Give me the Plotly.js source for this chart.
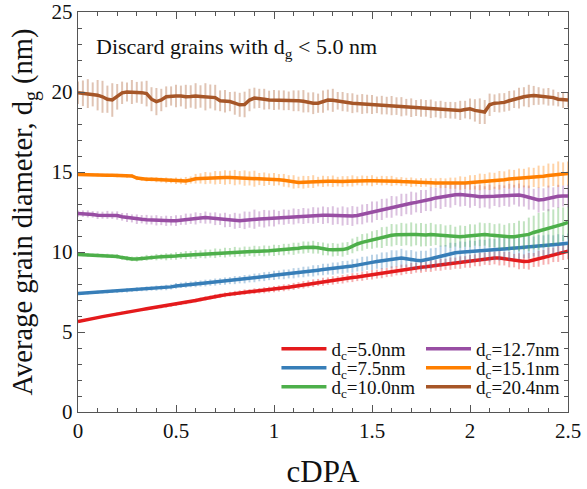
<!DOCTYPE html>
<html><head><meta charset="utf-8">
<script src="https://cdn.plot.ly/plotly-3.0.1.min.js"></script>
<style>html,body{margin:0;padding:0;background:#fff}#chart{width:587px;height:489px}</style>
</head><body><div id="chart"></div>
<script>
const cdpa = [0,
0.025,0.05,0.075,0.1, 0.125,0.15,0.175,0.2, 0.225,0.25,0.275,0.3, 0.325,0.35,0.375,0.4, 0.425,0.45,0.475,0.5,
0.525,0.55,0.575,0.6, 0.625,0.65,0.675,0.7, 0.725,0.75,0.775,0.8, 0.825,0.85,0.875,0.9, 0.925,0.95,0.975,1.0,
1.025,1.05,1.075,1.1, 1.125,1.15,1.175,1.2, 1.225,1.25,1.275,1.3, 1.325,1.35,1.375,1.4, 1.425,1.45,1.475,1.5,
1.525,1.55,1.575,1.6, 1.625,1.65,1.675,1.7, 1.725,1.75,1.775,1.8, 1.825,1.85,1.875,1.9, 1.925,1.95,1.975,2.0,
2.025,2.05,2.075,2.1, 2.125,2.15,2.175,2.2, 2.225,2.25,2.275,2.3, 2.325,2.35,2.375,2.4, 2.425,2.45,2.475,2.5];

const labels = ['d<sub>c</sub>=5.0nm','d<sub>c</sub>=7.5nm','d<sub>c</sub>=10.0nm','d<sub>c</sub>=12.7nm','d<sub>c</sub>=15.1nm','d<sub>c</sub>=20.4nm'];

const d50 = [5.65,
5.70,5.77,5.83,5.90, 5.96,6.02,6.08,6.15, 6.20,6.25,6.30,6.35, 6.40,6.45,6.50,6.53, 6.57,6.62,6.67,6.72,
6.78,6.84,6.90,6.97, 7.03,7.10,7.16,7.22, 7.27,7.32,7.37,7.41, 7.45,7.49,7.52,7.55, 7.58,7.61,7.65,7.68,
7.72,7.76,7.80,7.85, 7.90,7.95,8.00,8.05, 8.10,8.14,8.18,8.22, 8.25,8.30,8.35,8.40, 8.44,8.49,8.53,8.58,
8.62,8.67,8.72,8.78, 8.83,8.88,8.92,8.97, 9.02,9.05,9.08,9.12, 9.16,9.20,9.23,9.27, 9.30,9.34,9.38,9.42,
9.48,9.53,9.58,9.62, 9.63,9.62,9.58,9.52, 9.46,9.42,9.40,9.42, 9.50,9.58,9.66,9.75, 9.82,9.90,9.98,10.05];
const e50 = [0.05,
0.05,0.06,0.05,0.06, 0.06,0.07,0.06,0.07, 0.07,0.08,0.07,0.08, 0.08,0.09,0.08,0.09, 0.09,0.10,0.09,0.10,
0.10,0.11,0.10,0.12, 0.12,0.13,0.12,0.14, 0.13,0.15,0.14,0.16, 0.15,0.17,0.16,0.18, 0.17,0.19,0.18,0.20,
0.19,0.21,0.20,0.22, 0.21,0.23,0.22,0.24, 0.22,0.25,0.23,0.26, 0.24,0.27,0.25,0.28, 0.26,0.29,0.27,0.30,
0.28,0.31,0.29,0.32, 0.29,0.33,0.30,0.34, 0.31,0.35,0.32,0.36, 0.33,0.37,0.34,0.38, 0.35,0.39,0.36,0.40,
0.37,0.42,0.38,0.44, 0.40,0.46,0.42,0.48, 0.42,0.50,0.45,0.52, 0.44,0.50,0.46,0.52, 0.45,0.52,0.48,0.50];

const d75 = [7.40,
7.42,7.44,7.46,7.48, 7.50,7.52,7.54,7.56, 7.58,7.60,7.63,7.66, 7.68,7.70,7.72,7.74, 7.76,7.78,7.82,7.88,
7.92,7.95,7.98,8.00, 8.03,8.06,8.09,8.12, 8.15,8.18,8.21,8.24, 8.27,8.30,8.34,8.38, 8.42,8.46,8.50,8.54,
8.57,8.60,8.63,8.67, 8.71,8.75,8.78,8.82, 8.86,8.90,8.93,8.96, 9.00,9.04,9.08,9.12, 9.18,9.25,9.30,9.35,
9.40,9.45,9.50,9.56, 9.60,9.62,9.58,9.52, 9.48,9.46,9.50,9.58, 9.66,9.74,9.82,9.90, 9.95,9.98,10.00,10.02,
10.05,10.08,10.10,10.12, 10.15,10.18,10.20,10.22, 10.25,10.27,10.30,10.32, 10.35,10.38,10.40,10.43, 10.46,10.49,10.52,10.55];
const e75 = [0.08,
0.08,0.09,0.08,0.10, 0.09,0.11,0.10,0.12, 0.11,0.13,0.12,0.14, 0.13,0.15,0.14,0.16, 0.15,0.17,0.16,0.18,
0.17,0.19,0.18,0.20, 0.19,0.21,0.20,0.22, 0.21,0.23,0.22,0.25, 0.23,0.26,0.24,0.27, 0.25,0.28,0.26,0.29,
0.27,0.30,0.28,0.32, 0.30,0.33,0.31,0.35, 0.32,0.36,0.34,0.38, 0.35,0.40,0.37,0.42, 0.40,0.45,0.42,0.48,
0.45,0.52,0.48,0.55, 0.50,0.58,0.52,0.60, 0.55,0.62,0.58,0.65, 0.60,0.66,0.62,0.68, 0.62,0.68,0.64,0.70,
0.64,0.70,0.66,0.72, 0.66,0.72,0.68,0.74, 0.66,0.72,0.68,0.72, 0.62,0.68,0.64,0.66, 0.58,0.62,0.55,0.60];

const d100 = [9.85,
9.84,9.82,9.80,9.80, 9.78,9.76,9.74,9.72, 9.65,9.60,9.57,9.56, 9.60,9.64,9.66,9.68, 9.70,9.70,9.72,9.75,
9.78,9.80,9.82,9.84, 9.86,9.88,9.90,9.92, 9.94,9.96,9.98,10.00, 10.00,10.02,10.04,10.05, 10.06,10.07,10.08,10.10,
10.12,10.15,10.18,10.20, 10.24,10.28,10.30,10.30, 10.26,10.20,10.16,10.14, 10.14,10.15,10.22,10.38, 10.50,10.60,10.68,10.75,
10.82,10.90,10.98,11.05, 11.08,11.10,11.10,11.10, 11.10,11.08,11.06,11.10, 11.08,11.04,11.00,10.98, 10.96,10.96,10.98,11.02,
11.06,11.10,11.10,11.06, 11.02,10.98,10.95,10.95, 10.96,11.00,11.02,11.10, 11.22,11.30,11.38,11.48, 11.56,11.64,11.74,11.85];
const e100 = [0.10,
0.10,0.11,0.10,0.12, 0.11,0.13,0.12,0.14, 0.13,0.15,0.14,0.16, 0.15,0.18,0.16,0.20, 0.18,0.22,0.20,0.24,
0.22,0.26,0.24,0.28, 0.24,0.28,0.25,0.30, 0.26,0.30,0.27,0.32, 0.28,0.32,0.29,0.34, 0.30,0.34,0.31,0.35,
0.32,0.36,0.33,0.38, 0.34,0.38,0.35,0.40, 0.36,0.40,0.37,0.42, 0.38,0.44,0.40,0.46, 0.45,0.52,0.48,0.55,
0.55,0.65,0.60,0.70, 0.65,0.72,0.68,0.75, 0.68,0.74,0.70,0.72, 0.65,0.70,0.66,0.72, 0.62,0.70,0.65,0.72,
0.66,0.74,0.70,0.76, 0.72,0.80,0.75,0.85, 0.85,0.95,0.90,1.05, 1.05,1.15,1.10,1.20, 1.10,1.15,1.05,1.00];

const d127 = [12.40,
12.40,12.38,12.35,12.30, 12.30,12.32,12.30,12.28, 12.20,12.15,12.10,12.05, 12.05,12.02,12.00,11.98, 11.96,11.95,11.95,11.96,
12.00,12.05,12.08,12.10, 12.12,12.15,12.12,12.08, 12.05,12.00,11.96,11.95, 11.95,11.98,12.02,12.05, 12.06,12.08,12.10,12.12,
12.15,12.18,12.20,12.22, 12.24,12.25,12.26,12.28, 12.30,12.30,12.30,12.28, 12.26,12.25,12.24,12.25, 12.28,12.35,12.42,12.50,
12.58,12.66,12.74,12.82, 12.88,12.94,13.00,13.05, 13.10,13.15,13.22,13.30, 13.38,13.44,13.50,13.55, 13.58,13.60,13.58,13.55,
13.50,13.46,13.45,13.46, 13.48,13.50,13.52,13.55, 13.58,13.56,13.50,13.40, 13.30,13.25,13.28,13.35, 13.42,13.48,13.50,13.50];
const e127 = [0.20,
0.20,0.22,0.20,0.24, 0.22,0.25,0.23,0.26, 0.24,0.28,0.25,0.30, 0.26,0.30,0.28,0.32, 0.28,0.32,0.30,0.34,
0.30,0.35,0.32,0.38, 0.32,0.38,0.34,0.40, 0.36,0.45,0.40,0.50, 0.45,0.55,0.50,0.60, 0.48,0.55,0.50,0.52,
0.42,0.48,0.44,0.50, 0.45,0.50,0.46,0.52, 0.48,0.55,0.50,0.58, 0.52,0.60,0.55,0.62, 0.55,0.62,0.58,0.65,
0.58,0.66,0.60,0.68, 0.60,0.70,0.64,0.72, 0.62,0.72,0.66,0.75, 0.64,0.75,0.68,0.78, 0.65,0.76,0.70,0.78,
0.62,0.72,0.66,0.75, 0.60,0.70,0.64,0.72, 0.62,0.72,0.66,0.75, 0.65,0.78,0.70,0.80, 0.62,0.72,0.66,0.70];

const d151 = [14.85,
14.85,14.84,14.82,14.82, 14.80,14.80,14.79,14.78, 14.78,14.76,14.75,14.62, 14.56,14.55,14.54,14.52, 14.50,14.48,14.46,14.45,
14.44,14.44,14.50,14.58, 14.60,14.62,14.62,14.64, 14.65,14.66,14.66,14.65, 14.64,14.62,14.60,14.58, 14.56,14.55,14.55,14.54,
14.52,14.48,14.42,14.38, 14.35,14.36,14.38,14.40, 14.40,14.42,14.42,14.42, 14.40,14.40,14.42,14.44, 14.45,14.46,14.46,14.45,
14.45,14.46,14.46,14.44, 14.42,14.40,14.38,14.36, 14.35,14.34,14.34,14.33, 14.32,14.31,14.30,14.30, 14.30,14.31,14.32,14.34,
14.36,14.38,14.40,14.42, 14.45,14.48,14.52,14.56, 14.58,14.60,14.62,14.64, 14.66,14.70,14.74,14.78, 14.82,14.86,14.88,14.90];
const e151 = [0.08,
0.08,0.09,0.08,0.10, 0.09,0.10,0.09,0.11, 0.10,0.12,0.11,0.13, 0.12,0.14,0.13,0.16, 0.15,0.18,0.16,0.20,
0.20,0.25,0.22,0.30, 0.32,0.38,0.35,0.42, 0.40,0.45,0.42,0.48, 0.42,0.48,0.44,0.50, 0.38,0.42,0.36,0.40,
0.35,0.40,0.38,0.42, 0.36,0.40,0.37,0.40, 0.30,0.35,0.32,0.36, 0.30,0.34,0.32,0.35, 0.28,0.32,0.30,0.34,
0.26,0.30,0.28,0.32, 0.25,0.28,0.26,0.30, 0.25,0.28,0.26,0.30, 0.28,0.32,0.30,0.35, 0.35,0.42,0.38,0.45,
0.45,0.52,0.48,0.55, 0.50,0.58,0.52,0.60, 0.55,0.62,0.58,0.65, 0.60,0.70,0.65,0.75, 0.70,0.80,0.72,0.75];

const d204 = [19.95,
19.92,19.90,19.85,19.80, 19.70,19.55,19.50,19.70, 19.95,20.00,20.00,19.98, 19.96,19.90,19.55,19.40, 19.50,19.70,19.75,19.75,
19.75,19.70,19.72,19.75, 19.72,19.70,19.72,19.65, 19.45,19.42,19.40,19.30, 19.20,19.22,19.50,19.62, 19.60,19.55,19.50,19.50,
19.50,19.48,19.45,19.45, 19.45,19.42,19.35,19.30, 19.30,19.40,19.50,19.48, 19.45,19.40,19.35,19.30, 19.28,19.25,19.25,19.22,
19.20,19.18,19.15,19.15, 19.12,19.08,19.05,19.02, 19.00,19.00,18.98,18.95, 18.92,18.90,18.88,18.86, 18.85,18.85,18.90,18.95,
18.85,18.80,18.75,19.20, 19.30,19.32,19.35,19.45, 19.55,19.62,19.70,19.75, 19.78,19.75,19.72,19.70, 19.65,19.55,19.50,19.50];
const e204 = [0.70,
0.80,0.90,0.75,0.95, 1.00,0.85,1.05,0.80, 0.70,0.60,0.75,0.65, 0.70,0.80,0.75,0.85, 0.70,0.65,0.60,0.70,
0.65,0.75,0.70,0.80, 0.70,0.85,0.75,0.80, 0.65,0.70,0.60,0.72, 0.75,0.80,0.70,0.65, 0.60,0.65,0.58,0.62,
0.60,0.62,0.58,0.65, 0.65,0.70,0.62,0.68, 0.60,0.70,0.65,0.72, 0.55,0.60,0.58,0.62, 0.55,0.62,0.58,0.60,
0.52,0.58,0.55,0.60, 0.55,0.60,0.52,0.58, 0.50,0.55,0.52,0.58, 0.50,0.55,0.50,0.52, 0.52,0.60,0.55,0.65,
0.70,0.80,0.75,0.70, 0.55,0.60,0.58,0.62, 0.55,0.65,0.60,0.70, 0.60,0.55,0.50,0.55, 0.50,0.45,0.50,0.45];

const seriesY = [d50, d75, d100, d127, d151, d204];
const seriesE = [e50, e75, e100, e127, e151, e204];
const lineColors = ['#e41a1c','#377eb8','#4daf4a','#984ea3','#ff7f00','#a65628'];
const barColors = ['rgba(228,26,28,0.35)','rgba(55,126,184,0.35)','rgba(77,175,74,0.35)','rgba(152,78,163,0.35)','rgba(255,127,0,0.35)','rgba(166,86,40,0.35)'];
const legendIds = ['legend','legend2','legend3','legend4','legend5','legend6'];

const FONT = 'Liberation Serif';
const traces = seriesY.map((y, i) => ({
  type: 'scatter', mode: 'lines', x: cdpa, y: y, name: labels[i],
  legend: legendIds[i],
  line: {color: lineColors[i], width: 3.5},
  error_y: {type: 'data', array: seriesE[i], visible: true, color: barColors[i], thickness: 2, width: 0}
}));

function leg(x, y) {
  return {
    font: {family: FONT, size: 19, color: '#111'},
    bgcolor: 'rgba(0,0,0,0)', itemwidth: 45,
    x: x, y: y, yanchor: 'middle', xanchor: 'left'
  };
}

const layout = {
  width: 587, height: 489,
  margin: {l: 78, r: 19, t: 12, b: 77},
  paper_bgcolor: '#fff', plot_bgcolor: '#fff',
  font: {family: FONT, color: '#111'},
  showlegend: true,
  legend: leg(0.405, 0.1575),
  legend2: leg(0.405, 0.11),
  legend3: leg(0.405, 0.0625),
  legend4: leg(0.70, 0.1575),
  legend5: leg(0.70, 0.11),
  legend6: leg(0.70, 0.0625),
  xaxis: {
    range: [0, 2.5], dtick: 0.5, tick0: 0, ticks: 'inside', ticklen: 7, tickwidth: 1, tickcolor: '#555',
    showline: true, linecolor: '#555', linewidth: 1.2, mirror: 'allticks', showgrid: false, zeroline: false,
    tickfont: {family: FONT, size: 21, color: '#111'},
    minor: {dtick: 0.1, ticks: 'inside', ticklen: 4, tickcolor: '#555', showgrid: false},
    title: {text: 'cDPA', font: {family: FONT, size: 31, color: '#111'}, standoff: 20}
  },
  yaxis: {
    range: [0, 25], dtick: 5, tick0: 0, ticks: 'inside', ticklen: 7, tickwidth: 1, tickcolor: '#555',
    showline: true, linecolor: '#555', linewidth: 1.2, mirror: 'allticks', showgrid: false, zeroline: false,
    tickfont: {family: FONT, size: 21, color: '#111'},
    minor: {dtick: 1, ticks: 'inside', ticklen: 4, tickcolor: '#555', showgrid: false},
    title: {text: 'Average grain diameter, d<sub>g</sub> (nm)', font: {family: FONT, size: 28.5, color: '#111'}, standoff: 10}
  },
  annotations: [{
    xref: 'paper', yref: 'paper', x: 0.033, y: 0.91, xanchor: 'left', yanchor: 'middle', showarrow: false,
    text: 'Discard grains with d<sub>g</sub> &lt; 5.0 nm', font: {family: FONT, size: 22, color: '#111'}
  }]
};

Plotly.newPlot('chart', traces, layout, {displayModeBar: false, staticPlot: true});
</script></body></html>
